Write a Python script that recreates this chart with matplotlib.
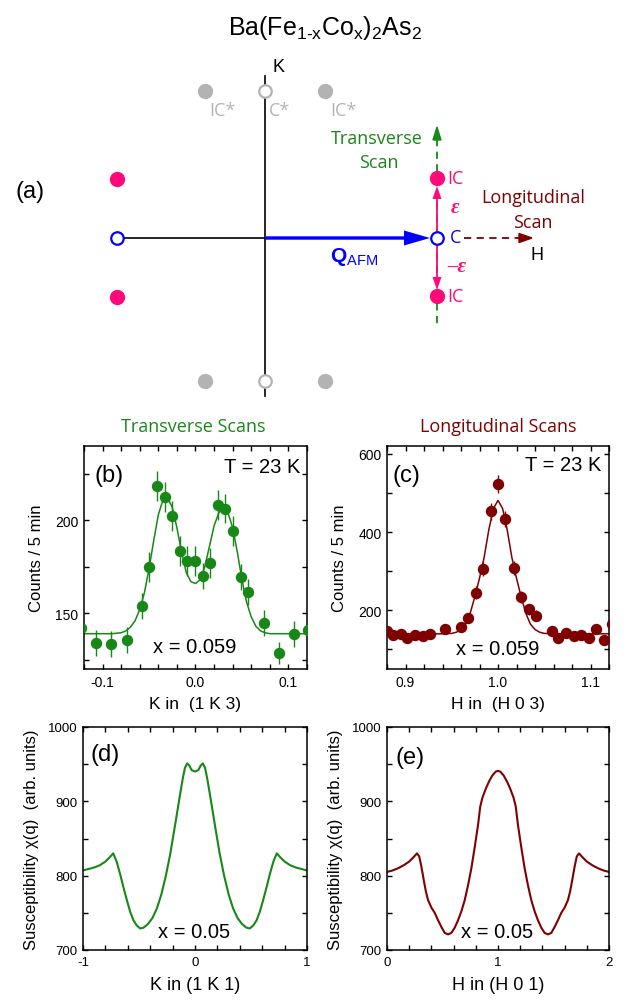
import matplotlib
matplotlib.use("Agg")
import matplotlib.pyplot as plt
from matplotlib.ticker import MultipleLocator

plt.rcParams["font.family"] = ["Liberation Sans", "DejaVu Sans"]
plt.rcParams["axes.unicode_minus"] = False
plt.rcParams["mathtext.fontset"] = "custom"
plt.rcParams["mathtext.rm"] = "Liberation Sans"
plt.rcParams["mathtext.it"] = "Liberation Sans:italic"
plt.rcParams["mathtext.bf"] = "Liberation Sans:bold"

GREEN = "#178817"
DARKRED = "#7f0000"
PINK = "#ff0a78"
BLUE = "#0000ff"
GRAY = "#b3b3b3"
MYRIAD = ["Open Sans", "DejaVu Sans"]

# ---- (b) transverse scan, K in (1 K 3)
b_k = [-0.123, -0.107, -0.091, -0.074, -0.058, -0.050, -0.041, -0.033, -0.025,
       -0.017, -0.009, 0.000, 0.008, 0.016, 0.024, 0.032, 0.040, 0.049, 0.057,
       0.074, 0.090, 0.106, 0.121]
b_counts = [141.8, 134.2, 133.3, 135.7, 153.9, 174.9, 218.5, 212.7, 202.3,
            183.5, 178.1, 178.1, 170.1, 176.9, 208.1, 206.3, 194.3, 169.7, 161.5,
            144.6, 128.5, 138.7, 141.0]
b_err = [7, 7, 7, 7, 7, 8, 8, 8, 8, 8, 8, 8, 7, 8, 8, 8, 8, 7, 7, 7, 6, 7, 7]
b_fit_k = [-0.12, -0.09, -0.08, -0.075, -0.07, -0.065, -0.06, -0.055, -0.05,
           -0.045, -0.04, -0.035, -0.03, -0.025, -0.02, -0.015, -0.01, -0.005,
           0.0, 0.005, 0.01, 0.015, 0.02, 0.025, 0.03, 0.035, 0.04, 0.045,
           0.05, 0.055, 0.06, 0.065, 0.07, 0.075, 0.08, 0.09, 0.12]
b_fit = [139, 139, 139.5, 140.5, 142.5, 146, 152, 161, 174,
         189, 203, 211, 212, 207, 196, 183, 172, 167,
         166, 168, 175, 186, 197, 204, 206.5, 204, 196, 183,
         168, 156, 148, 143, 140.5, 139.5, 139, 139, 139]

# ---- (c) longitudinal scan, H in (H 0 3)
c_h = [0.880, 0.886, 0.895, 0.902, 0.910, 0.919, 0.927, 0.943, 0.960, 0.968,
       0.976, 0.984, 0.992, 1.000, 1.008, 1.017, 1.025, 1.033, 1.041, 1.058,
       1.065, 1.074, 1.082, 1.090, 1.098, 1.106, 1.115, 1.123]
c_counts = [146, 138, 140, 129, 138, 135, 140, 151, 157, 181,
            245, 306, 453, 523, 434, 308, 234, 203, 186, 146,
            129, 143, 135, 138, 129, 151, 123, 166]
c_err = [12, 12, 12, 11, 12, 12, 12, 12, 13, 13, 16, 18, 21, 23, 21, 18, 15, 14,
         14, 12, 11, 12, 12, 12, 11, 12, 11, 13]
c_fit_h = [0.88, 0.94, 0.95, 0.955, 0.96, 0.965, 0.97, 0.975, 0.98, 0.985,
           0.99, 0.995, 1.0, 1.005, 1.01, 1.015, 1.02, 1.025, 1.03, 1.035,
           1.04, 1.045, 1.05, 1.06, 1.12]
c_fit = [140, 140, 141, 144, 151, 165, 193, 235, 282, 335,
         405, 460, 481, 460, 405, 335, 282, 235, 193, 165,
         151, 144, 141, 140, 140]

# ---- (d) susceptibility along (1 K 1)
d_k = [-1.0, -0.95, -0.9, -0.85, -0.8, -0.76, -0.73, -0.70, -0.67, -0.64,
       -0.61, -0.58, -0.55, -0.52, -0.49, -0.46, -0.42, -0.38, -0.34, -0.30,
       -0.26, -0.22, -0.18, -0.14, -0.11, -0.09, -0.07, -0.05, -0.03, 0.0,
       0.03, 0.05, 0.07, 0.09, 0.11, 0.14, 0.18, 0.22, 0.26, 0.30,
       0.34, 0.38, 0.42, 0.46, 0.49, 0.52, 0.55, 0.58, 0.61, 0.64,
       0.67, 0.70, 0.73, 0.76, 0.8, 0.85, 0.9, 0.95, 1.0]
d_chi = [807, 809, 811, 814, 819, 825, 830, 819, 803, 785,
         768, 752, 740, 733, 729, 730, 735, 743, 756, 775,
         800, 830, 866, 903, 930, 945, 951, 948, 942, 940,
         942, 948, 951, 945, 930, 903, 866, 830, 800, 775,
         756, 743, 735, 730, 729, 733, 740, 752, 768, 785,
         803, 819, 830, 825, 819, 814, 811, 809, 807]

# ---- (e) susceptibility along (H 0 1)
e_h = [0.0, 0.05, 0.1, 0.15, 0.2, 0.24, 0.27, 0.29, 0.31, 0.33,
       0.35, 0.37, 0.40, 0.43, 0.46, 0.49, 0.52, 0.55, 0.58, 0.61,
       0.64, 0.67, 0.70, 0.73, 0.76, 0.79, 0.82, 0.84, 0.86, 0.89,
       0.92, 0.95, 0.98, 1.0, 1.02, 1.05, 1.08, 1.11, 1.14, 1.16,
       1.18, 1.21, 1.24, 1.27, 1.30, 1.33, 1.36, 1.39, 1.42, 1.45,
       1.48, 1.51, 1.54, 1.57, 1.60, 1.63, 1.65, 1.67, 1.69, 1.71,
       1.73, 1.76, 1.8, 1.85, 1.9, 1.95, 2.0]
e_chi = [805, 807, 810, 814, 819, 825, 830, 826, 812, 795,
         779, 767, 757, 750, 740, 731, 723, 721, 723, 730,
         740, 752, 767, 787, 810, 838, 868, 893, 905, 917,
         927, 935, 940, 941, 940, 935, 927, 917, 905, 893,
         868, 838, 810, 787, 767, 752, 740, 730, 723, 721,
         723, 731, 740, 750, 757, 767, 779, 795, 812, 826,
         830, 825, 819, 814, 810, 807, 805]

# ---- (a) reciprocal-space sketch, positions in figure pixels
gray_full_x = [205, 325, 205, 325]
gray_full_y = [92, 92, 382, 382]
gray_open_x = [265, 265]
gray_open_y = [92, 382]
ic_x = [117, 117, 437, 437]
ic_y = [180, 298, 179, 297]
c_x = [117, 437]
c_y = [239, 239]

fig = plt.figure(figsize=(6.28, 10.03), dpi=100)

ax = fig.add_axes([0, 0, 1, 1])
ax.set_xlim(0, 628)
ax.set_ylim(1003, 0)
ax.axis("off")

ax.text(325, 28, r"Ba(Fe$_{\mathrm{1\text{-}x}}$Co$_{\mathrm{x}}$)$_{2}$As$_{2}$",
        fontsize=18, ha="center", va="center")
ax.text(30, 192, "(a)", fontsize=17, ha="center", va="center")

# axes lines
ax.plot([265, 265], [77, 397], color="black", lw=1.2, zorder=1)
ax.plot([117, 265], [239, 239], color="black", lw=1.2, zorder=1)
ax.text(278, 67, "K", fontsize=13, ha="center", va="center")
ax.text(537, 255, "H", fontsize=13, ha="center", va="center")

# scan directions
ax.plot([437, 437], [140, 328], color=GREEN, lw=1.3, ls=(0, (4, 3)), zorder=1)
ax.arrow(437, 142, 0, -14, width=0.3, head_width=8, head_length=13,
         length_includes_head=True, color=GREEN, zorder=2)
ax.plot([464, 522], [239, 239], color=DARKRED, lw=1.3, ls=(0, (4, 3)), zorder=1)
ax.arrow(518, 239, 14, 0, width=0.3, head_width=9, head_length=13,
         length_includes_head=True, color=DARKRED, zorder=2)

# Q_AFM and epsilon arrows
ax.arrow(265, 239, 165, 0, width=3.4, head_width=15, head_length=26,
         length_includes_head=True, color=BLUE, lw=0, zorder=3)
ax.arrow(437, 232, 0, -45, width=1.8, head_width=9, head_length=13,
         length_includes_head=True, color=PINK, lw=0, zorder=3)
ax.arrow(437, 246, 0, 45, width=1.8, head_width=9, head_length=13,
         length_includes_head=True, color=PINK, lw=0, zorder=3)

ax.plot(gray_full_x, gray_full_y, "o", ms=10, color=GRAY, mec=GRAY, zorder=4)
ax.plot(gray_open_x, gray_open_y, "o", ms=9, mfc="white", mec=GRAY, mew=1.6, zorder=4)
ax.plot(ic_x, ic_y, "o", ms=10, color=PINK, mec=PINK, zorder=4)
ax.plot(c_x, c_y, "o", ms=9, mfc="white", mec=BLUE, mew=1.6, zorder=4)

for tx, lab in zip([222, 280, 343], ["IC*", "C*", "IC*"]):
    ax.text(tx, 111, lab, fontsize=13, color=GRAY, ha="center", va="center",
            family=MYRIAD)
ax.text(377, 139, "Transverse", fontsize=13, color=GREEN, ha="center",
        va="center", family=MYRIAD)
ax.text(379, 163, "Scan", fontsize=13, color=GREEN, ha="center", va="center",
        family=MYRIAD)
ax.text(533, 198, "Longitudinal", fontsize=13, color=DARKRED, ha="center",
        va="center", family=MYRIAD)
ax.text(533, 223, "Scan", fontsize=13, color=DARKRED, ha="center",
        va="center", family=MYRIAD)
ax.text(447, 179, "IC", fontsize=13, color=PINK, ha="left", va="center",
        family=MYRIAD)
ax.text(447, 297, "IC", fontsize=13, color=PINK, ha="left", va="center",
        family=MYRIAD)
ax.text(450, 238, "C", fontsize=13, color=BLUE, ha="left", va="center",
        family=MYRIAD)
ax.text(455, 208, "ε", fontsize=15, color=PINK, ha="center", va="center",
        family="Liberation Serif", fontweight="bold", fontstyle="italic")
ax.text(457, 267, "–ε", fontsize=15, color=PINK, ha="center", va="center",
        family="Liberation Serif", fontweight="bold", fontstyle="italic")
ax.text(330, 257, r"$\mathbf{Q}_{\mathrm{AFM}}$", fontsize=15, color=BLUE,
        ha="left", va="center")

# headings
ax.text(193, 427, "Transverse Scans", fontsize=13, color=GREEN, ha="center",
        va="center", family=MYRIAD)
ax.text(498, 427, "Longitudinal Scans", fontsize=13, color=DARKRED,
        ha="center", va="center", family=MYRIAD)


def style(a, xmaj, xmin, ymaj, ymin, lsize):
    a.xaxis.set_major_locator(MultipleLocator(xmaj))
    a.xaxis.set_minor_locator(MultipleLocator(xmin))
    a.yaxis.set_major_locator(MultipleLocator(ymaj))
    a.yaxis.set_minor_locator(MultipleLocator(ymin))
    a.tick_params(which="both", direction="in", top=True, right=True,
                  length=3.5, width=1.0, labelsize=lsize, pad=4)
    for s in a.spines.values():
        s.set_linewidth(1.1)


W = 223 / 628
H = 223 / 1003
axb = fig.add_axes([84 / 628, 333 / 1003, W, H])
axc = fig.add_axes([387 / 628, 333 / 1003, 222 / 628, H])
axd = fig.add_axes([83 / 628, 52 / 1003, 224 / 628, H])
axe = fig.add_axes([387 / 628, 52 / 1003, 222 / 628, H])

# (b)
axb.plot(b_fit_k, b_fit, color=GREEN, lw=1.1, zorder=2)
axb.errorbar(b_k, b_counts, yerr=b_err, fmt="o", ms=7.2, color=GREEN,
             elinewidth=1.0, capsize=0, zorder=3, clip_on=True)
axb.set_xlim(-0.12, 0.12)
axb.set_ylim(120, 240)
style(axb, 0.1, 0.02, 50, 25, 10)
axb.set_ylabel("Counts / 5 min", fontsize=12, labelpad=8)
axb.set_xlabel("K in  (1 K 3)", fontsize=12.5, labelpad=5)
axb.text(0.049, 0.87, "(b)", transform=axb.transAxes, fontsize=17,
         ha="left", va="center")
axb.text(0.969, 0.91, "T = 23 K", transform=axb.transAxes, fontsize=14.5,
         ha="right", va="center")
axb.text(0.498, 0.099, "x = 0.059", transform=axb.transAxes, fontsize=14.5,
         ha="center", va="center")

# (c)
axc.plot(c_fit_h, c_fit, color=DARKRED, lw=1.1, zorder=2)
axc.errorbar(c_h, c_counts, yerr=c_err, fmt="o", ms=7.2, color=DARKRED,
             elinewidth=1.0, capsize=0, zorder=3)
axc.set_xlim(0.88, 1.12)
axc.set_ylim(50, 620)
style(axc, 0.1, 0.02, 200, 100, 10)
axc.set_ylabel("Counts / 5 min", fontsize=12, labelpad=8)
axc.set_xlabel("H in  (H 0 3)", fontsize=12.5, labelpad=5)
axc.text(0.027, 0.87, "(c)", transform=axc.transAxes, fontsize=17,
         ha="left", va="center")
axc.text(0.964, 0.915, "T = 23 K", transform=axc.transAxes, fontsize=14.5,
         ha="right", va="center")
axc.text(0.5, 0.09, "x = 0.059", transform=axc.transAxes, fontsize=14.5,
         ha="center", va="center")

# (d)
axd.plot(d_k, d_chi, color=GREEN, lw=1.5)
axd.set_xlim(-1, 1)
axd.set_ylim(700, 1000)
style(axd, 1, 0.2, 100, 50, 9.5)
axd.set_ylabel("Susceptibility χ(q)  (arb. units)", fontsize=12, labelpad=6)
axd.set_xlabel("K in (1 K 1)", fontsize=13, labelpad=6)
axd.text(0.034, 0.879, "(d)", transform=axd.transAxes, fontsize=17,
         ha="left", va="center")
axd.text(0.496, 0.085, "x = 0.05", transform=axd.transAxes, fontsize=14.5,
         ha="center", va="center")

# (e)
axe.plot(e_h, e_chi, color=DARKRED, lw=1.5)
axe.set_xlim(0, 2)
axe.set_ylim(700, 1000)
style(axe, 1, 0.2, 100, 50, 9.5)
axe.set_ylabel("Susceptibility χ(q)  (arb. units)", fontsize=12, labelpad=6)
axe.set_xlabel("H in (H 0 1)", fontsize=13, labelpad=6)
axe.text(0.04, 0.865, "(e)", transform=axe.transAxes, fontsize=17,
         ha="left", va="center")
axe.text(0.495, 0.085, "x = 0.05", transform=axe.transAxes, fontsize=14.5,
         ha="center", va="center")

fig.savefig("out.png", dpi=100)
